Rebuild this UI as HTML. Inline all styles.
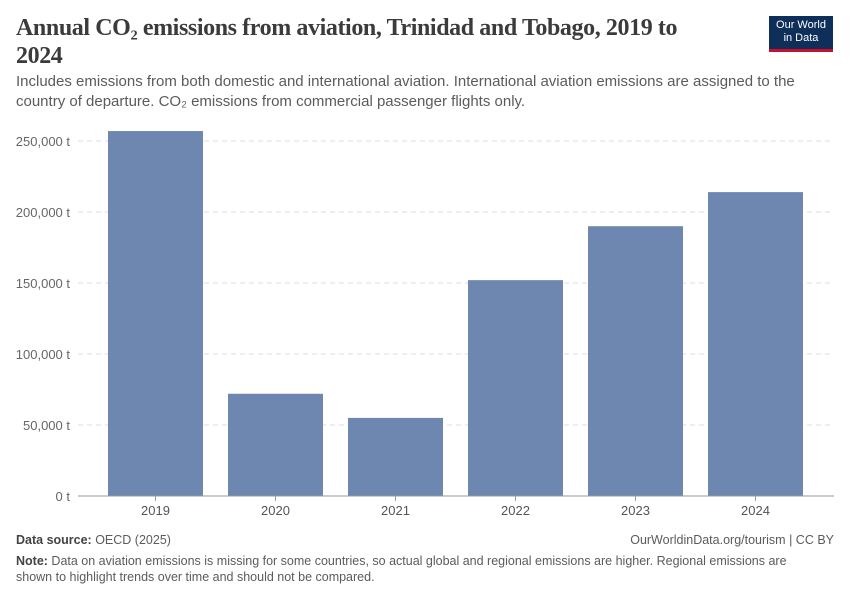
<!DOCTYPE html>
<html><head><meta charset="utf-8"><style>
body{margin:0;width:850px;height:600px;background:#fff;font-family:"Liberation Sans",sans-serif;overflow:hidden;position:relative}
.title{position:absolute;left:16px;top:14px;width:690px;font-family:"Liberation Serif",serif;font-size:24px;font-weight:bold;letter-spacing:-0.4px;line-height:28px;color:#3b3b3b}
.sub{position:absolute;left:16px;top:72px;width:800px;font-size:15px;line-height:20px;color:#5b5b5b}
.logo{position:absolute;left:769px;top:16px;width:64px;height:36px;background:#0d2f5a;color:#fff;font-size:11px;line-height:13px;text-align:center;padding-top:3px;box-sizing:border-box;border-bottom:3px solid #c8102e}
.foot{position:absolute;left:16px;font-size:12.5px;color:#5b5b5b;line-height:16px}
b{color:#444}
</style></head><body>
<div class="title">Annual CO₂ emissions from aviation, Trinidad and Tobago, 2019 to 2024</div>
<div class="sub">Includes emissions from both domestic and international aviation. International aviation emissions are assigned to the country of departure. CO₂ emissions from commercial passenger flights only.</div>
<div class="logo">Our World<br>in Data</div>
<svg id="chart" width="850" height="600" style="position:absolute;left:0;top:0"></svg>
<div class="foot" style="top:532px"><b>Data source:</b> OECD (2025)</div>
<div class="foot" style="top:532px;right:16px;left:auto">OurWorldinData.org/tourism | CC BY</div>
<div class="foot" style="top:553px;width:800px"><b>Note:</b> Data on aviation emissions is missing for some countries, so actual global and regional emissions are higher. Regional emissions are shown to highlight trends over time and should not be compared.</div>
<script>
const years=["2019","2020","2021","2022","2023","2024"];
const values=[257000,72000,55000,152000,190000,214000];
const ticks=[0,50000,100000,150000,200000,250000];
const tickLabels=["0 t","50,000 t","100,000 t","150,000 t","200,000 t","250,000 t"];
const svg=document.getElementById('chart');
const NS='http://www.w3.org/2000/svg';
const y0=496,ppu=355/250000;
const y=v=>y0-v*ppu;
const x=i=>95.5+i*120;
function mk(t,a){const e=document.createElementNS(NS,t);for(const k in a)e.setAttribute(k,a[k]);svg.appendChild(e);return e;}
ticks.forEach((t,i)=>{
 if(t>0){const l=mk('line',{x1:78,x2:834,y1:y(t),y2:y(t),stroke:'#ddd','stroke-dasharray':'5,4'});
 
 }
 const tx=mk('text',{x:70,y:y(t)+5,'text-anchor':'end','font-size':13,fill:'#666','font-family':'Liberation Sans'});
 tx.textContent=tickLabels[i];
 
 
});
values.forEach((v,i)=>{
 const r=mk('rect',{x:x(i)+12.5,y:y(v),width:95,height:v*ppu,fill:'#6d87b0'});
 
 
 const tk=mk('line',{x1:x(i)+60,x2:x(i)+60,y1:y0,y2:y0+5,stroke:'#999'});
 
 
 const tx=mk('text',{x:x(i)+60,y:515,'text-anchor':'middle','font-size':13,fill:'#555','font-family':'Liberation Sans'});
 tx.textContent=years[i];
 
 
});
const ax=mk('line',{x1:78,x2:834,y1:y0,y2:y0,stroke:'#999'});


</script>
</body></html>
